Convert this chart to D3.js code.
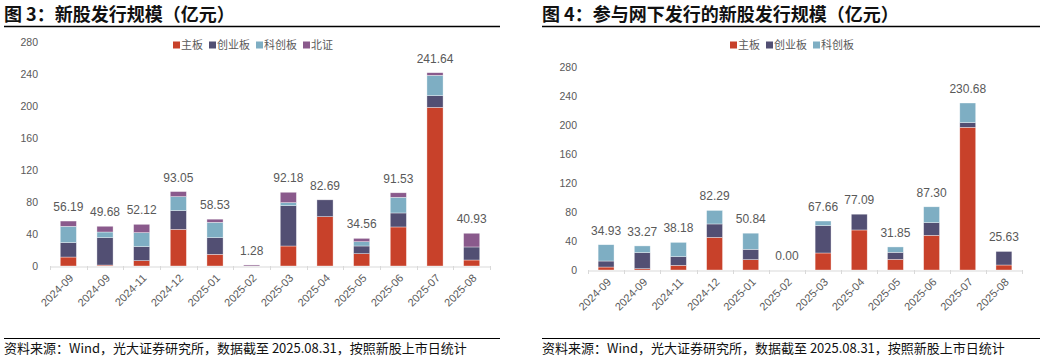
<!DOCTYPE html>
<html><head><meta charset="utf-8">
<script src="https://cdn.jsdelivr.net/npm/d3@7"></script>
<style>
body{margin:0;background:#fff;}
svg{display:block;}
text{font-family:"Liberation Sans","Noto Sans CJK SC",Arial,sans-serif;}
.cjk{font-family:"Noto Sans CJK SC","Liberation Sans",sans-serif;}
</style></head><body>
<svg id="c" width="1058" height="359"></svg>
<script>
const months = ["2024-09","2024-09","2024-11","2024-12","2025-01","2025-02","2025-03","2025-04","2025-05","2025-06","2025-07","2025-08"];
const seriesNames = ["主板","创业板","科创板","北证"];
const colors = ["#C8412A","#524F73","#7EAEC3","#8A5A8C"];

// Chart 1: 新股发行规模
const c1Main = [11.2, 1.2, 6.7, 45.8, 14.6, 0, 25.0, 61.7, 15.4, 48.8, 198.3, 7.5];
const c1Gem  = [18.0, 34.2, 17.5, 23.4, 20.8, 0, 50.4, 21.0, 9.6, 17.5, 14.6, 16.3];
const c1Star = [20.4, 7.1, 17.5, 17.5, 19.2, 0, 3.8, 0, 5.4, 19.6, 25.4, 0];
const c1Bse  = [6.59, 7.18, 10.42, 6.35, 3.93, 1.28, 12.98, 0, 4.16, 5.63, 3.34, 17.13];
const c1Totals = ["56.19","49.68","52.12","93.05","58.53","1.28","92.18","82.69","34.56","91.53","241.64","40.93"];

// Chart 2: 参与网下发行的新股发行规模
const c2Main = [4.1, 1.8, 6.4, 45.1, 14.3, 0, 23.5, 55.3, 14.7, 47.9, 197.1, 6.9];
const c2Gem  = [8.3, 22.2, 12.0, 18.5, 14.3, 0, 37.8, 21.79, 9.7, 17.5, 6.5, 18.73];
const c2Star = [22.53, 9.27, 19.78, 18.69, 22.24, 0, 6.36, 0, 7.45, 21.9, 27.08, 0];
const c2Totals = ["34.93","33.27","38.18","82.29","50.84","0.00","67.66","77.09","31.85","87.30","230.68","25.63"];

const yTicks = [0,40,80,120,160,200,240,280];

const svg = d3.select("#c");
const grey = "#595959";

function header(x0, x1, title){
  svg.append("text").attr("class","cjk").attr("x",x0).attr("y",21)
    .attr("font-size",18).attr("font-weight","bold").attr("fill","#111").text(title);
  svg.append("line").attr("x1",x0).attr("x2",x1).attr("y1",26.5).attr("y2",26.5)
    .attr("stroke","#000").attr("stroke-width",1.3);
  svg.append("line").attr("x1",x0).attr("x2",x1).attr("y1",338.5).attr("y2",338.5)
    .attr("stroke","#000").attr("stroke-width",1.1);
  svg.append("text").attr("class","cjk").attr("x",x0).attr("y",353)
    .attr("font-size",13).attr("fill","#111").text("资料来源：Wind，光大证券研究所，数据截至 2025.08.31，按照新股上市日统计");
}

function chart(opt){
  const {x0,x1,yTop,yBot,labelX,series,names,totals,legendX,legendY} = opt;
  const x = d3.scaleBand().domain(d3.range(months.length)).range([x0,x1]).paddingInner(0.56).paddingOuter(0.28);
  const xb = d3.scaleBand().domain(d3.range(months.length)).range([x0,x1]);
  const y = d3.scaleLinear().domain([0,280]).range([yBot,yTop]);
  const g = svg.append("g");
  // y labels
  g.selectAll(".yl").data(yTicks).join("text")
    .attr("x",labelX).attr("y",d=>y(d)).attr("dy","0.35em").attr("text-anchor","end")
    .attr("font-size",10.5).attr("fill",grey).text(d=>d);
  // stacked
  const rows = months.map((m,i)=>{const o={i}; names.forEach((n,k)=>o[n]=series[k][i]); return o;});
  const stack = d3.stack().keys(names)(rows);
  stack.forEach((layer,k)=>{
    g.append("g").selectAll("rect").data(layer).join("rect")
      .attr("x",d=>x(d.data.i)).attr("width",x.bandwidth())
      .attr("y",d=>y(d[1])).attr("height",d=>Math.max(0,y(d[0])-y(d[1])))
      .attr("fill",colors[k]).attr("stroke","#fff").attr("stroke-width",0.6).attr("stroke-opacity",0.6);
  });
  // axis
  const ax = g.append("g").attr("transform",`translate(0,${yBot+0.5})`)
    .call(d3.axisBottom(xb).tickValues([]).tickSizeOuter(0));
  ax.select(".domain").attr("stroke","#D9D9D9");
  const ticks = d3.range(months.length+1).map(i=> i<months.length ? xb(i) : x1);
  g.selectAll(".tk").data(ticks).join("line")
    .attr("x1",d=>Math.round(d)+0.5).attr("x2",d=>Math.round(d)+0.5).attr("y1",yBot).attr("y2",yBot+4)
    .attr("stroke","#D9D9D9");
  // x labels
  g.selectAll(".xl").data(months).join("text")
    .attr("transform",(d,i)=>`translate(${xb(i)+xb.bandwidth()/2+3},${yBot+10}) rotate(-45)`)
    .attr("text-anchor","end").attr("dy","0.35em").attr("font-size",11).attr("fill",grey).text(d=>d);
  // totals
  const tot = rows.map(r=>names.reduce((s,n)=>s+r[n],0));
  g.selectAll(".tl").data(totals).join("text")
    .attr("x",(d,i)=>x(i)+x.bandwidth()/2).attr("y",(d,i)=>y(tot[i])-10)
    .attr("text-anchor","middle").attr("font-size",12).attr("fill",grey).text(d=>d);
  // legend
  let lx = legendX;
  names.forEach((n,k)=>{
    g.append("rect").attr("x",lx).attr("y",legendY-3.5).attr("width",7).attr("height",7).attr("fill",colors[k]);
    const t = g.append("text").attr("class","cjk").attr("x",lx+8).attr("y",legendY).attr("dy","0.35em")
      .attr("font-size",11).attr("fill",grey).text(n);
    lx += 8 + t.node().getComputedTextLength() + 6;
  });
}

header(4,500,"图 3：新股发行规模（亿元）");
header(542,1040,"图 4：参与网下发行的新股发行规模（亿元）");

chart({x0:50,x1:490,yTop:42,yBot:266,labelX:38,series:[c1Main,c1Gem,c1Star,c1Bse],names:seriesNames,totals:c1Totals,legendX:173,legendY:45});
chart({x0:588,x1:1022,yTop:67.3,yBot:270,labelX:577,series:[c2Main,c2Gem,c2Star],names:seriesNames.slice(0,3),totals:c2Totals,legendX:730,legendY:45});
</script>
</body></html>
